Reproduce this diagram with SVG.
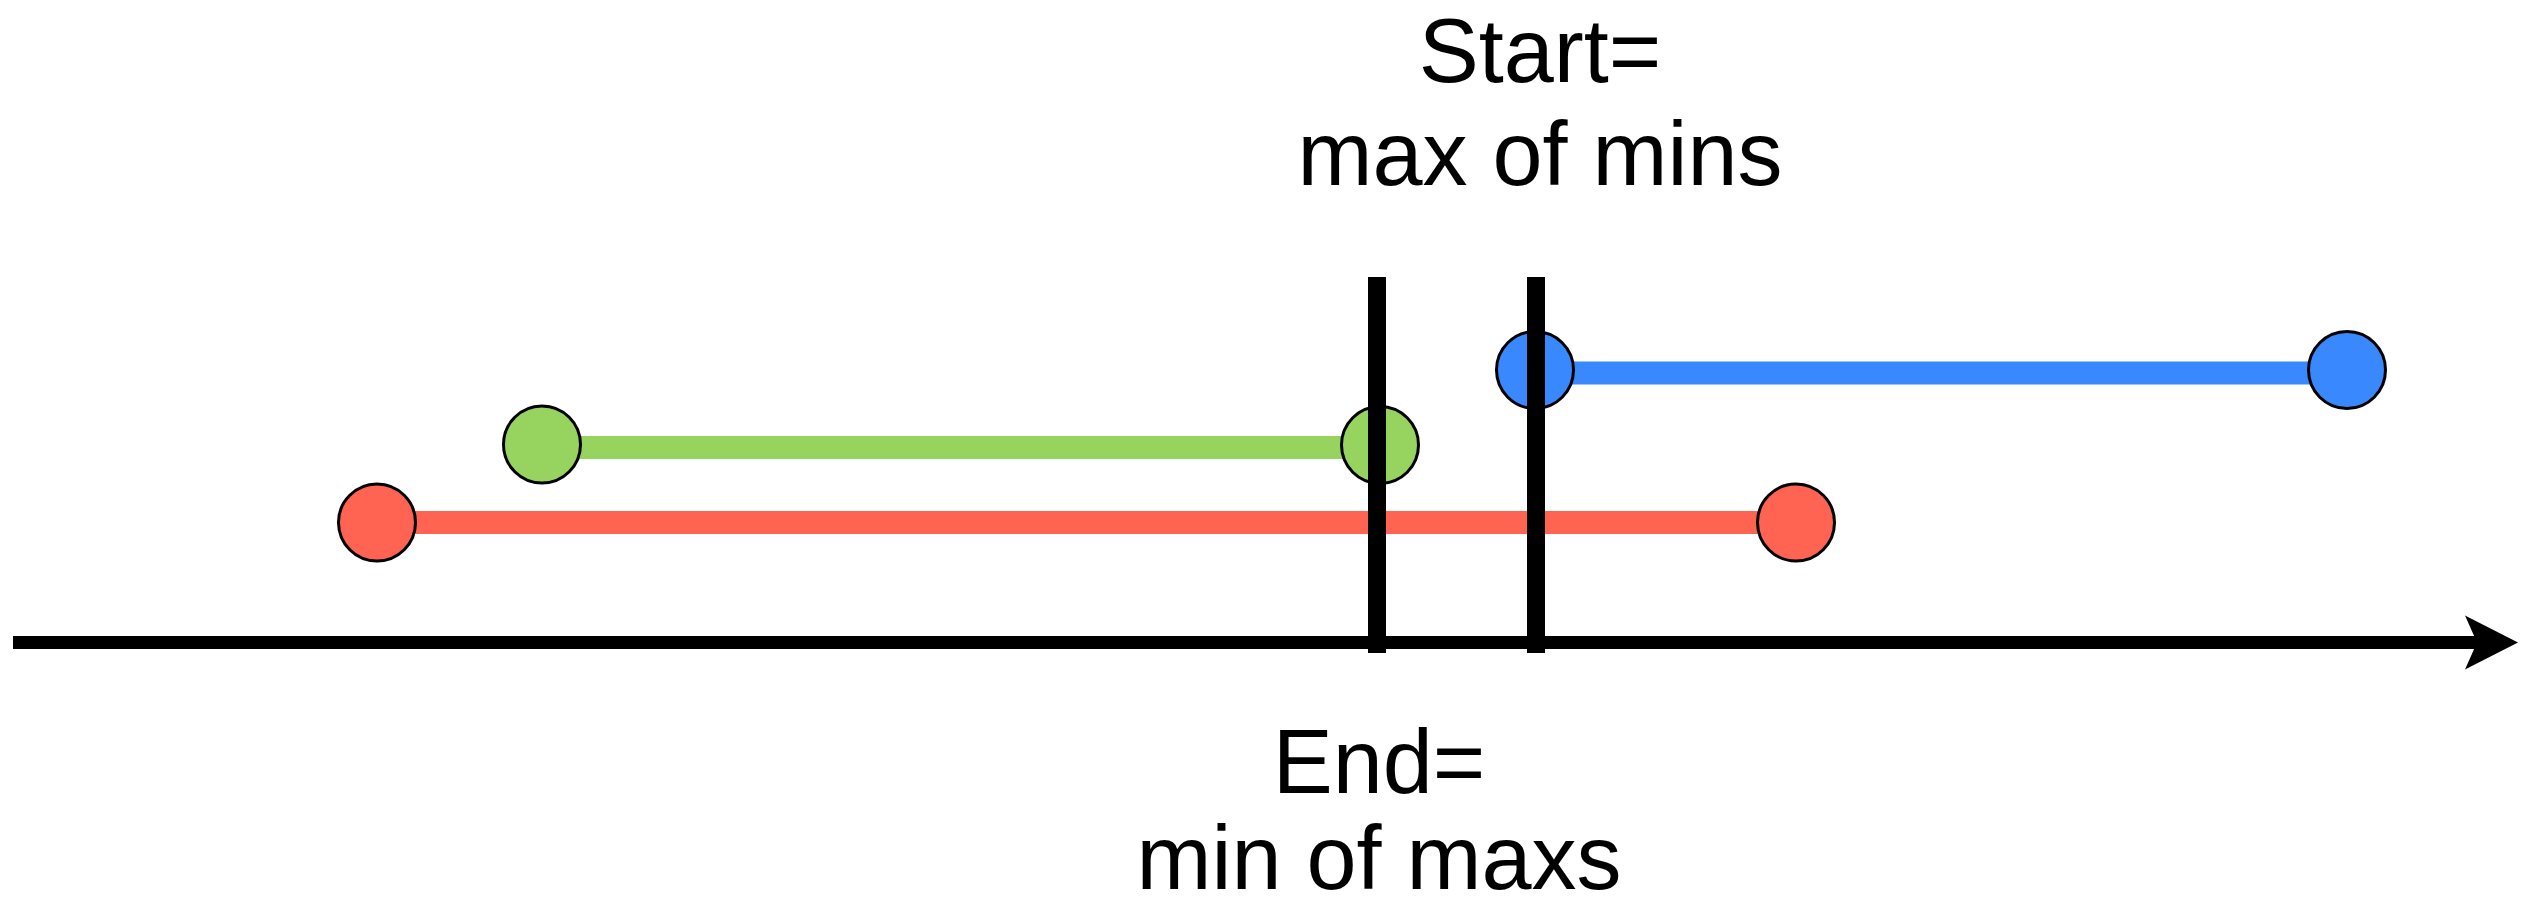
<svg xmlns="http://www.w3.org/2000/svg" width="2534" height="902" viewBox="0 0 2534 902">
  <style>
    .lbl { font-family: "Liberation Sans", Arial, sans-serif; font-size: 90px; fill: #000; text-anchor: middle; }
    .dot { stroke: #000; stroke-width: 3; }
    .red { fill: #FF6352; }
    .green { fill: #97D35F; }
    .blue { fill: #3A88FE; }
    .bar-red { stroke: #FF6352; stroke-width: 23; }
    .bar-green { stroke: #97D35F; stroke-width: 23; }
    .bar-blue { stroke: #3A88FE; stroke-width: 23; }
    .vline { stroke: #000; stroke-width: 18; }
  </style>
  <rect width="2534" height="902" fill="#fff"/>
  <g id="interval-red">
    <line class="bar-red" x1="377" y1="522.5" x2="1796" y2="522.5"/>
    <circle class="dot red" cx="377" cy="522.5" r="38.5"/>
    <circle class="dot red" cx="1796" cy="522.5" r="38.5"/>
  </g>
  <g id="interval-green">
    <line class="bar-green" x1="542" y1="447.5" x2="1380" y2="447.5"/>
    <circle class="dot green" cx="542" cy="444.5" r="38.5"/>
    <circle class="dot green" cx="1380" cy="445" r="38.5"/>
  </g>
  <g id="interval-blue">
    <line class="bar-blue" x1="1535" y1="373" x2="2347" y2="373"/>
    <circle class="dot blue" cx="1535" cy="370" r="38.5"/>
    <circle class="dot blue" cx="2347" cy="370" r="38.5"/>
  </g>
  <g id="connectors">
    <line x1="13" y1="642.5" x2="2480" y2="642.5" stroke="#000" stroke-width="13"/>
    <polygon points="2518,642.5 2465,615.5 2477,642.5 2465,669.5" fill="#000"/>
  </g>
  <g id="end-line">
    <line class="vline" x1="1377" y1="277" x2="1377" y2="653"/>
  </g>
  <g id="start-line">
    <line class="vline" x1="1536" y1="277" x2="1536" y2="653"/>
  </g>
  <g id="start-label">
    <text class="lbl" x="1540" y="82">Start=</text>
    <text class="lbl" x="1540" y="185">max of mins</text>
  </g>
  <g id="end-label">
    <text class="lbl" x="1379" y="793">End=</text>
    <text class="lbl" x="1379" y="889">min of maxs</text>
  </g>
</svg>
